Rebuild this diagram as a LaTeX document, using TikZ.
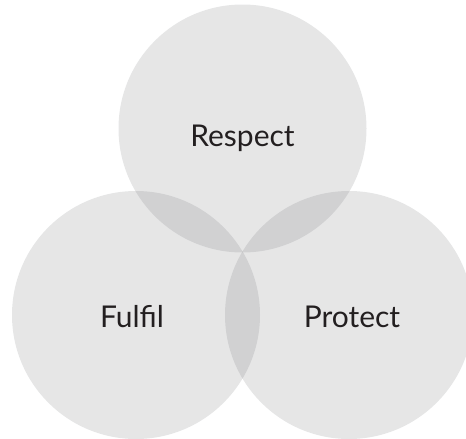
\documentclass[tikz,border=0pt]{standalone}
\usepackage{fontspec}
\setmainfont{Lato}
\definecolor{ringgray}{RGB}{99,100,102}
\definecolor{inkgray}{RGB}{35,31,32}
\begin{document}
\begin{tikzpicture}[x=1pt, y=-1pt,
                    ring/.style={circle, fill=ringgray, fill opacity=0.16, draw=none, inner sep=0pt, minimum size=248pt},
                    lbl/.style={anchor=base, text=inkgray, font=\fontsize{30}{36}\selectfont}]
                    \useasboundingbox (0, 0) rectangle (466, 439);
                    \node[ring] (respect) at (242.5, 128.5) {};
                    \node[ring] (fulfil) at (136, 315) {};
                    \node[ring] (protect) at (349, 315) {};
                    \node[lbl] (respect_lbl) at (242.5, 146) {Respect};
                    \node[lbl] (fulfil_lbl) at (132, 327) {Fulfil};
                    \node[lbl] (protect_lbl) at (352, 327) {Protect};
                \end{tikzpicture}
\end{document}
